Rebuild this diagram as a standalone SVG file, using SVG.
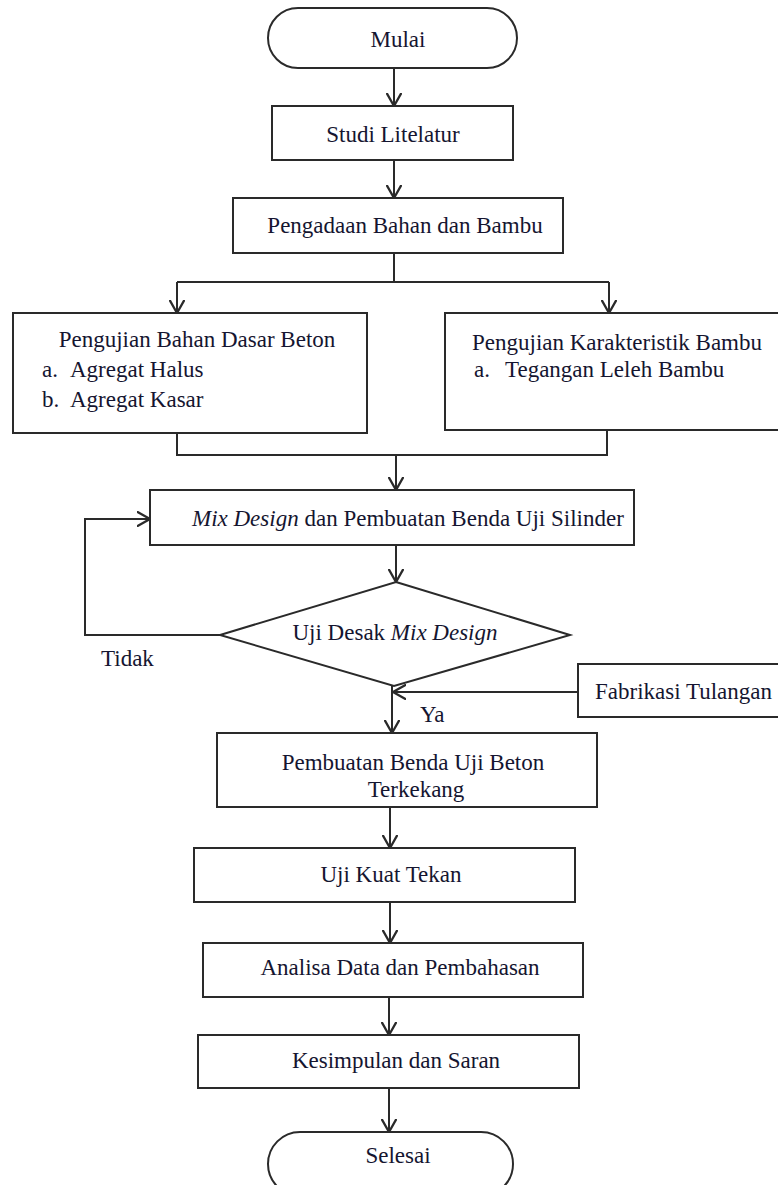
<svg xmlns="http://www.w3.org/2000/svg" width="778" height="1185" viewBox="0 0 778 1185">
<defs>
<marker id="arr" markerUnits="userSpaceOnUse" markerWidth="14" markerHeight="16" viewBox="0 0 12 14" refX="11.5" refY="7" orient="auto">
<path d="M0,0.5 L11.5,7 L0,13.5" fill="none" stroke="#2a2a2a" stroke-width="2"/>
</marker>
<style>
.box{fill:#fff;stroke:#2a2a2a;stroke-width:2}
.ln{fill:none;stroke:#2a2a2a;stroke-width:2}
.t{font-family:'Liberation Serif','Times New Roman',Times,'DejaVu Serif',serif;font-size:23px;fill:#151530}
.c{text-anchor:middle}
.i{font-style:italic}
</style>
</defs>
<rect width="778" height="1185" fill="#fff"/>

<g id="connectors">
<line class="ln" x1="394" y1="68" x2="394" y2="106" marker-end="url(#arr)"/>
<line class="ln" x1="394" y1="160" x2="394" y2="198" marker-end="url(#arr)"/>
<polyline class="ln" points="394,253 394,282"/>
<polyline class="ln" points="177,282 609,282"/>
<line class="ln" x1="177" y1="282" x2="177" y2="313" marker-end="url(#arr)"/>
<line class="ln" x1="609" y1="282" x2="609" y2="313" marker-end="url(#arr)"/>
<polyline class="ln" points="177,433 177,455 607,455 607,430"/>
<line class="ln" x1="396" y1="455" x2="396" y2="490" marker-end="url(#arr)"/>
<line class="ln" x1="396" y1="545" x2="396" y2="582" marker-end="url(#arr)"/>
<polyline class="ln" points="220,635 85,635 85,519 150,519" marker-end="url(#arr)"/>
<line class="ln" x1="392" y1="684" x2="392" y2="733" marker-end="url(#arr)"/>
<line class="ln" x1="578" y1="692" x2="393" y2="692" marker-end="url(#arr)"/>
<line class="ln" x1="390" y1="807" x2="390" y2="848" marker-end="url(#arr)"/>
<line class="ln" x1="390" y1="902" x2="390" y2="943" marker-end="url(#arr)"/>
<line class="ln" x1="389" y1="997" x2="389" y2="1035" marker-end="url(#arr)"/>
<line class="ln" x1="389" y1="1088" x2="389" y2="1132" marker-end="url(#arr)"/>
</g>

<g id="mulai">
<rect class="box" x="268" y="8" width="249" height="60" rx="30"/>
<text class="t c" x="398" y="47" font-family="Liberation Serif, serif">Mulai</text>
</g>
<g id="studi">
<rect class="box" x="272" y="106" width="241" height="54"/>
<text class="t c" x="393" y="142">Studi Litelatur</text>
</g>
<g id="pengadaan">
<rect class="box" x="233" y="198" width="330" height="55"/>
<text class="t c" x="405" y="233">Pengadaan Bahan dan Bambu</text>
</g>
<g id="uji-bahan">
<rect class="box" x="13" y="313" width="354" height="120"/>
<text class="t c" x="197" y="347">Pengujian Bahan Dasar Beton</text>
<text class="t" x="42" y="377">a.</text>
<text class="t" x="70" y="377">Agregat Halus</text>
<text class="t" x="42" y="407">b.</text>
<text class="t" x="70" y="407">Agregat Kasar</text>
</g>
<g id="uji-bambu">
<rect class="box" x="445" y="313" width="345" height="117"/>
<text class="t" x="472" y="350">Pengujian Karakteristik Bambu</text>
<text class="t" x="474" y="377">a.</text>
<text class="t" x="505" y="377">Tegangan Leleh Bambu</text>
</g>
<g id="mix">
<rect class="box" x="150" y="490" width="484" height="55"/>
<text class="t" x="192" y="526"><tspan class="i">Mix Design</tspan>  dan Pembuatan Benda Uji Silinder</text>
</g>
<g id="desak">
<polygon class="box" points="396,582 570,635 394,686 220,635"/>
<text class="t c" x="395" y="640">Uji Desak <tspan class="i">Mix Design</tspan></text>
</g>
<g id="label-tidak">
<text class="t" x="101" y="666">Tidak</text>
</g>
<g id="label-ya">
<text class="t" x="420" y="722">Ya</text>
</g>
<g id="fabrikasi">
<rect class="box" x="578" y="664" width="215" height="53"/>
<text class="t" x="595" y="699">Fabrikasi Tulangan</text>
</g>
<g id="pembuatan">
<rect class="box" x="217" y="733" width="380" height="74"/>
<text class="t c" x="413" y="770">Pembuatan Benda Uji Beton</text>
<text class="t c" x="416" y="797">Terkekang</text>
</g>
<g id="kuat">
<rect class="box" x="194" y="848" width="381" height="54"/>
<text class="t c" x="391" y="882">Uji Kuat Tekan</text>
</g>
<g id="analisa">
<rect class="box" x="203" y="943" width="380" height="54"/>
<text class="t c" x="400" y="975">Analisa Data dan Pembahasan</text>
</g>
<g id="kesimpulan">
<rect class="box" x="198" y="1035" width="381" height="53"/>
<text class="t c" x="396" y="1068">Kesimpulan dan Saran</text>
</g>
<g id="selesai">
<rect class="box" x="268" y="1132" width="245" height="64" rx="32"/>
<text class="t c" x="398" y="1163">Selesai</text>
</g>
</svg>
